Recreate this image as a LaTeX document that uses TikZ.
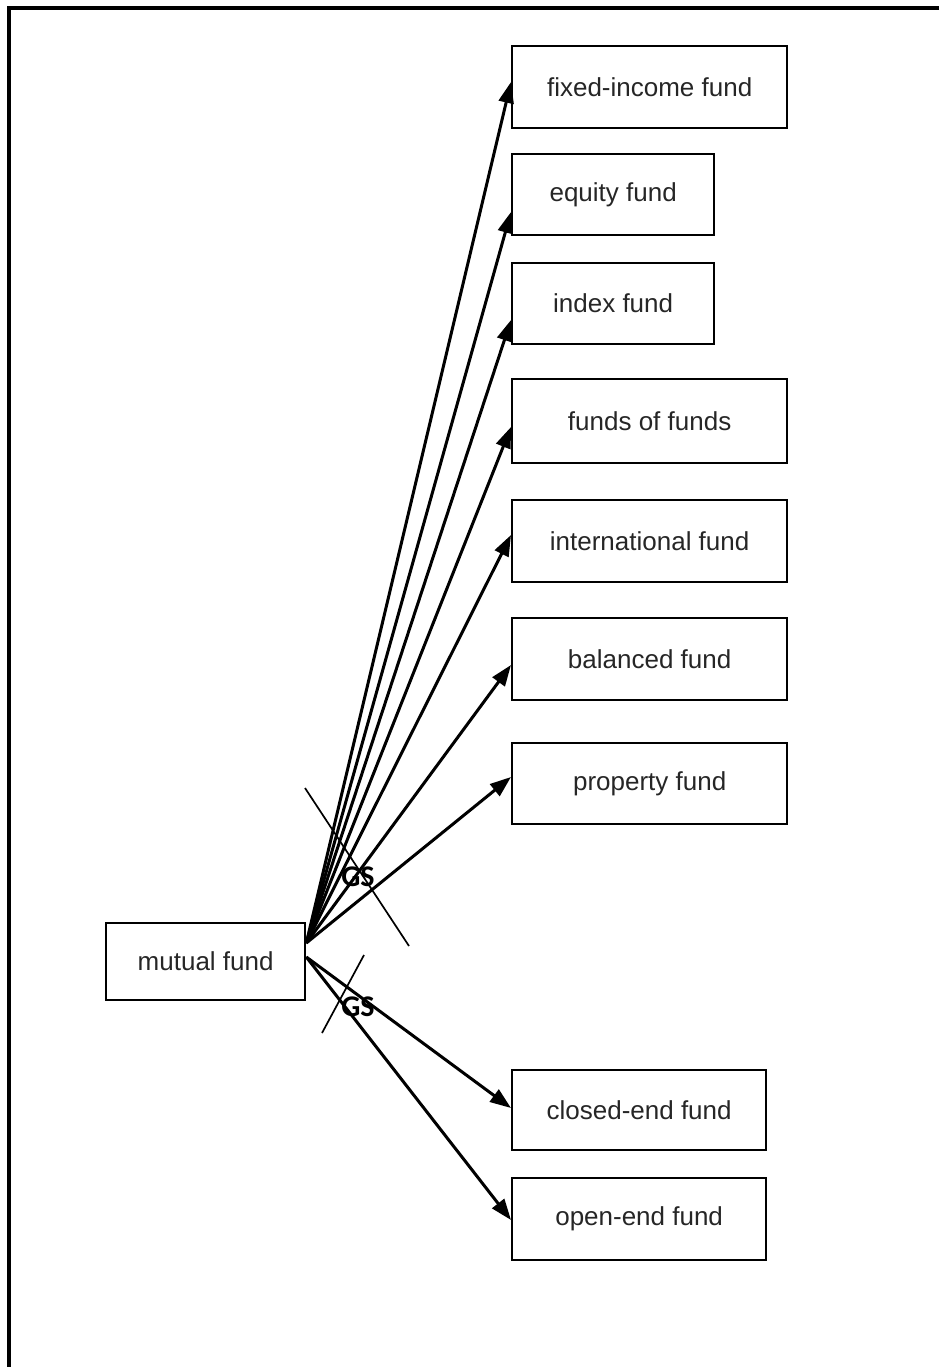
\documentclass[tikz,border=0pt]{standalone}
\usepackage{fontspec}
\setmainfont{Liberation Sans}
\newfontfamily\gsfont{Carlito}
\usetikzlibrary{arrows.meta}
\begin{document}
\begin{tikzpicture}[x=1pt,y=-1pt,
  fundbox/.style={draw, line width=2.3pt, inner sep=0pt, anchor=north west,
    text=black!85, font=\fontsize{26}{30}\selectfont},
  link/.style={line width=3pt, -{Triangle[length=21pt,width=15pt]}},
  cut/.style={line width=1.7pt},
  gslabel/.style={font=\gsfont\bfseries\fontsize{30}{34}\selectfont, inner sep=0pt}]
\useasboundingbox (0,0) rectangle (939,1367);
% open frame along the top and left
\draw[line width=4pt] (939,8) -- (9,8) -- (9,1367);

% fund categories
\node[fundbox, minimum width=275pt, minimum height=82pt] (fi)  at (511,45)   {fixed-income fund};
\node[fundbox, minimum width=202pt, minimum height=81pt] (eq)  at (511,153)  {equity fund};
\node[fundbox, minimum width=202pt, minimum height=81pt] (ix)  at (511,262)  {index fund};
\node[fundbox, minimum width=275pt, minimum height=84pt] (fof) at (511,378)  {funds of funds};
\node[fundbox, minimum width=275pt, minimum height=82pt] (intl) at (511,499) {international fund};
\node[fundbox, minimum width=275pt, minimum height=82pt] (bal) at (511,617)  {balanced fund};
\node[fundbox, minimum width=275pt, minimum height=81pt] (prop) at (511,742) {property fund};
\node[fundbox, minimum width=254pt, minimum height=80pt] (ce)  at (511,1069) {closed-end fund};
\node[fundbox, minimum width=254pt, minimum height=82pt] (oe)  at (511,1177) {open-end fund};
\node[fundbox, minimum width=199pt, minimum height=77pt] (mf)  at (105,922)  {mutual fund};

% fan-out points on the right side of the root
\coordinate (srcU) at (mf.east |- 0,943);
\coordinate (srcL) at (mf.east |- 0,957);

\draw[link] (srcU) -- (fi.west |- 0,82);
\draw[link] (srcU) -- (eq.west |- 0,212);
\draw[link] (srcU) -- (ix.west |- 0,320);
\draw[link] (srcU) -- (fof.west |- 0,427);
\draw[link] (srcU) -- (intl.west |- 0,535);
\draw[link] (srcU) -- (bal.west |- 0,665);
\draw[link] (srcU) -- (prop.west |- 0,777);
\draw[link] (srcL) -- (ce.west |- 0,1108);
\draw[link] (srcL) -- (oe.west |- 0,1220);

% generalisation/specialisation marks
\coordinate (cutUa) at (305,788);
\coordinate (cutUb) at (409,946);
\draw[cut] (cutUa) -- (cutUb);
\node[gslabel] (gsU) at (358,877) {GS};
\coordinate (cutLa) at (364,955);
\coordinate (cutLb) at (322,1033);
\draw[cut] (cutLa) -- (cutLb);
\node[gslabel] (gsL) at (358,1007) {GS};
\end{tikzpicture}
\end{document}
